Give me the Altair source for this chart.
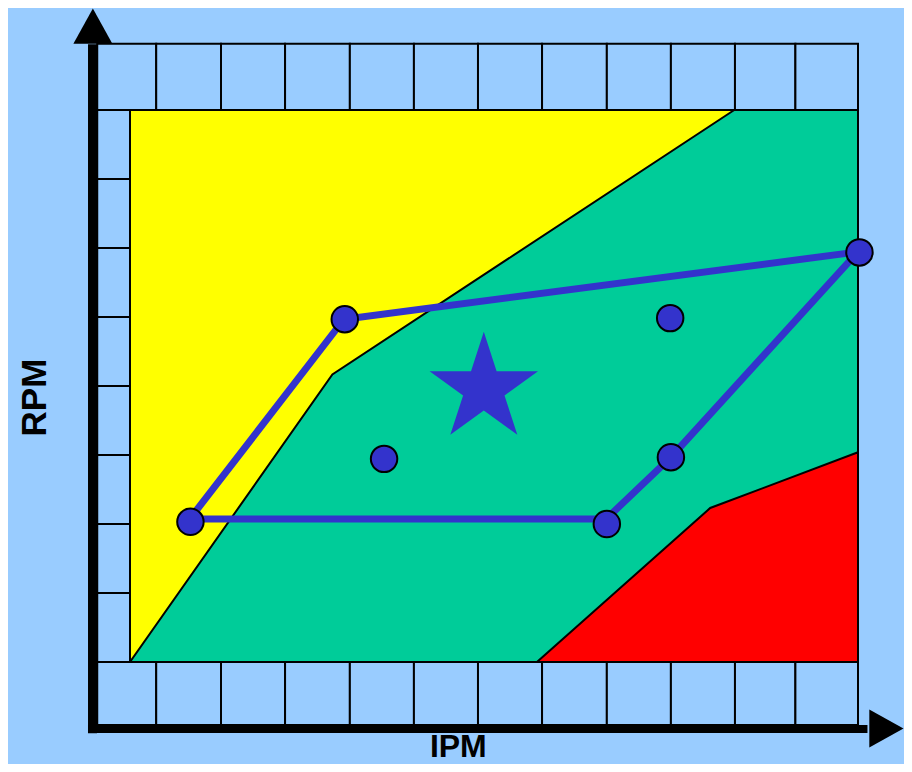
import math
import altair as alt
import pandas as pd

BG = "#99CCFF"
YELLOW = "#FFFF00"
GREEN = "#00CC99"
RED = "#FF0000"
BLUE = "#3333CC"

# ---- data (IPM / RPM in percent of the plotted operating range) ----
# frame cells around the plot
col_edges = [-4.5, 3.6, 12.5, 21.3, 30.2, 39.0, 47.8, 56.6, 65.5, 74.3, 83.1, 91.4, 100]
row_edges = [0, 12.5, 25, 37.5, 50, 62.5, 75, 87.5, 100]
top_band = [100, 112]
bottom_band = [-11.4, 0]
left_band = [-4.5, 0]

# zone boundaries (yellow | green | red)
green_y = [0, 52.1, 100]
green_x = [0, 27.8, 83.0]
red_y = [0, 27.9, 38.0]
red_x = [55.9, 79.7, 100]

# operating window polygon
win_x = [8.2, 29.4, 100, 74.3, 65.4, 8.2]
win_y = [25.9, 62.1, 74.3, 37.1, 25.9, 25.9]

# test points
pts_x = [8.3, 29.5, 100.2, 74.3, 65.5, 34.9, 74.2]
pts_y = [25.4, 62.1, 74.2, 37.1, 25.0, 36.8, 62.3]

# optimum (star)
star_x = [48.6]
star_y = [49.5]

# axis arrows
vbar_x = [-5.15]
vbar_y = [-12.9, 111.9]
hbar_y = [-12.14]
hbar_x = [-5.77, 101.3]
up_arrow = [-5.1, 115.2]
right_arrow = [103.9, -12.05]

# axis titles
x_title = ["IPM", 45.1, -17.2]
y_title = ["RPM", -11.5, 47.9]

# ---- tables ----
cells = []
for a, b in zip(col_edges[:-1], col_edges[1:]):
    cells.append(dict(x=a, x2=b, y=top_band[0], y2=top_band[1]))
    cells.append(dict(x=a, x2=b, y=bottom_band[0], y2=bottom_band[1]))
for a, b in zip(row_edges[:-1], row_edges[1:]):
    cells.append(dict(x=left_band[0], x2=left_band[1], y=a, y2=b))
cells_df = pd.DataFrame(cells)

plot_df = pd.DataFrame({"x": [0], "x2": [100], "y": [0], "y2": [100]})
green_df = pd.DataFrame({"y": green_y, "x": green_x, "x2": [100] * len(green_y)})
red_df = pd.DataFrame({"y": red_y, "x": red_x, "x2": [100] * len(red_y)})
win_df = pd.DataFrame({"x": win_x, "y": win_y, "i": list(range(len(win_x)))})
pts_df = pd.DataFrame({"x": pts_x, "y": pts_y})
star_df = pd.DataFrame({"x": star_x, "y": star_y})
vbar_df = pd.DataFrame({"x": vbar_x, "y": [vbar_y[0]], "y2": [vbar_y[1]]})
hbar_df = pd.DataFrame({"y": hbar_y, "x": [hbar_x[0]], "x2": [hbar_x[1]]})
up_df = pd.DataFrame({"x": [up_arrow[0]], "y": [up_arrow[1]]})
right_df = pd.DataFrame({"x": [right_arrow[0]], "y": [right_arrow[1]]})
xt_df = pd.DataFrame({"t": [x_title[0]], "x": [x_title[1]], "y": [x_title[2]]})
yt_df = pd.DataFrame({"t": [y_title[0]], "x": [y_title[1]], "y": [y_title[2]]})

xs = alt.Scale(domain=[0, 100], nice=False, zero=False)
ys = alt.Scale(domain=[0, 100], nice=False, zero=False)
X = alt.X("x:Q", scale=xs, axis=None)
Y = alt.Y("y:Q", scale=ys, axis=None)

# star shape path (regular pentagram, unit radius)
pts = []
for k in range(10):
    r = 1.0 if k % 2 == 0 else 0.382
    a = math.radians(-90 + 36 * k)
    pts.append(f"{r * math.cos(a):.4f},{r * math.sin(a):.4f}")
star_path = "M" + "L".join(pts) + "Z"

cells_l = alt.Chart(cells_df).mark_rect(fill=BG, stroke="black", strokeWidth=2, opacity=1).encode(
    x=X, x2="x2:Q", y=Y, y2="y2:Q")
plot_l = alt.Chart(plot_df).mark_rect(fill=YELLOW, stroke="black", strokeWidth=2, opacity=1).encode(
    x=X, x2="x2:Q", y=Y, y2="y2:Q")
green_l = alt.Chart(green_df).mark_area(orient="horizontal", fill=GREEN, stroke="black",
                                        strokeWidth=2, opacity=1, fillOpacity=1).encode(
    x=X, x2="x2:Q", y=Y)
red_l = alt.Chart(red_df).mark_area(orient="horizontal", fill=RED, stroke="black",
                                    strokeWidth=2, opacity=1, fillOpacity=1).encode(
    x=X, x2="x2:Q", y=Y)
win_l = alt.Chart(win_df).mark_line(color=BLUE, strokeWidth=7, opacity=1).encode(
    x=X, y=Y, order="i:Q")
pts_l = alt.Chart(pts_df).mark_circle(size=700, color=BLUE, stroke="black", strokeWidth=2,
                                      opacity=1).encode(x=X, y=Y)
star_l = alt.Chart(star_df).mark_point(shape=star_path, size=12996, filled=True, color=BLUE,
                                       opacity=1, strokeWidth=0).encode(x=X, y=Y)
vbar_l = alt.Chart(vbar_df).mark_rule(color="black", strokeWidth=9).encode(x=X, y=Y, y2="y2:Q")
hbar_l = alt.Chart(hbar_df).mark_rule(color="black", strokeWidth=8).encode(y=Y, x=X, x2="x2:Q")
up_l = alt.Chart(up_df).mark_point(shape="M0,-0.9L1,0.9L-1,0.9Z", size=1521, filled=True,
                                   color="black", opacity=1, strokeWidth=0).encode(x=X, y=Y)
right_l = alt.Chart(right_df).mark_point(shape="M0.9,0L-0.9,-1L-0.9,1Z", size=1444, filled=True,
                                         color="black", opacity=1, strokeWidth=0).encode(x=X, y=Y)
xt_l = alt.Chart(xt_df).mark_text(font="Liberation Sans", fontWeight="bold", fontSize=32,
                                  color="black", align="center", baseline="alphabetic").encode(
    x=X, y=Y, text="t:N")
yt_l = alt.Chart(yt_df).mark_text(font="Liberation Sans", fontWeight="bold", fontSize=35,
                                  color="black", align="center", baseline="alphabetic",
                                  angle=270).encode(x=X, y=Y, text="t:N")

chart = alt.layer(
    cells_l, plot_l, green_l, red_l, win_l, pts_l, star_l,
    vbar_l, hbar_l, up_l, right_l, xt_l, yt_l
).properties(
    width=728, height=552,
    padding={"left": 122, "top": 102, "right": 46, "bottom": 102},
    autosize=alt.AutoSizeParams(type="none"),
    background=BG,
).configure_view(stroke=None)

chart.save("out.html", embed_options={"renderer": "svg", "actions": False})
